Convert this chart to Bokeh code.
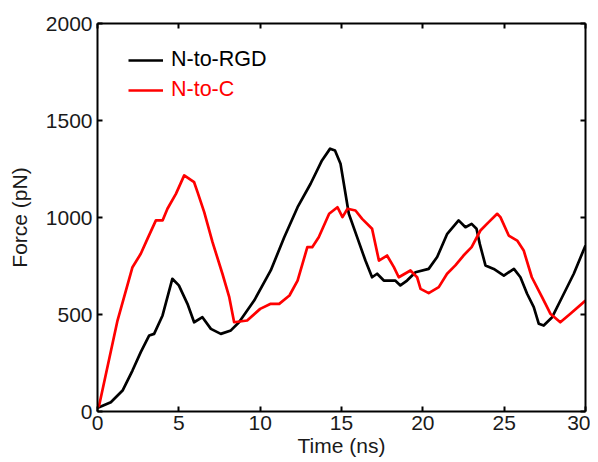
from bokeh.plotting import figure
from bokeh.models import LinearAxis, Legend, LegendItem, FixedTicker, Range1d, CustomLabelingPolicy
from bokeh.embed import file_html
from bokeh.resources import INLINE

black_t = [0, 0.1, 0.82, 1.54, 2.15, 2.66, 3.18, 3.48, 4.0, 4.6, 5.0, 5.53, 5.94, 6.45, 6.97, 7.58, 8.2, 8.7, 9.63, 10.65,
           11.48, 12.3, 13.1, 13.8, 14.3, 14.6, 14.94, 15.45, 15.96, 16.47, 16.88, 17.19, 17.6, 18.3, 18.62, 19.03, 19.55, 20.36, 20.88, 21.5,
           22.2, 22.62, 23.0, 23.3, 23.5, 23.85, 24.36, 24.98, 25.6, 26.0, 26.41, 26.82, 27.13, 27.43, 27.95, 28.56, 29.28, 30.0]
black_f = [20, 22, 48, 108, 211, 306, 392, 400, 495, 684, 650, 555, 460, 486, 426, 400, 418, 460, 572, 727,
           898, 1053, 1174, 1294, 1355, 1345, 1277, 1019, 899, 778, 692, 710, 675, 675, 650, 675, 718, 735, 796, 916,
           985, 950, 967, 942, 864, 753, 735, 701, 735, 692, 607, 538, 452, 443, 486, 589, 710, 856]

red_t = [0, 0.1, 1.23, 2.15, 2.66, 3.07, 3.59, 4.0, 4.3, 4.82, 5.33, 5.94, 6.15, 6.56, 7.07, 7.68, 8.1, 8.4, 9.2, 10.0,
         10.65, 11.17, 11.8, 12.3, 12.9, 13.2, 13.6, 14.24, 14.75, 15.06, 15.37, 15.86, 16.27, 16.88, 17.3, 17.8, 18.22, 18.52, 19.24, 19.65,
         19.86, 20.36, 20.98, 21.49, 22.0, 22.5, 23.0, 23.54, 24.05, 24.57, 24.77, 25.28, 25.8, 26.2, 26.7, 27.33, 27.84, 28.45, 29.07, 30.0]
red_f = [20, 31, 469, 744, 813, 890, 985, 985, 1045, 1122, 1217, 1182, 1131, 1028, 873, 710, 589, 460, 469, 529,
         555, 555, 598, 675, 847, 847, 898, 1019, 1053, 1002, 1045, 1036, 993, 942, 778, 804, 744, 692, 727, 692,
         632, 610, 641, 710, 753, 804, 847, 933, 976, 1019, 1002, 907, 881, 830, 692, 589, 504, 460, 504, 572]

x_ticks = [0, 5, 10, 15, 20, 25, 30]
y_ticks = [0, 500, 1000, 1500, 2000]
labels = ["N-to-RGD", "N-to-C"]
colors = ["#000000", "#ff0000"]

FONT = "Liberation Sans"
FS = "21px"
TXT = "#1a1a1a"

HIDE_CODE = """
try {
  for (let i = 0; i < indices.size; i++) {
    if (typeof indices.unset === "function") { indices.unset(i) }
    else if (typeof indices.set === "function") { indices.set(i, false) }
  }
} catch (e) {}
return indices
"""

p = figure(width=590, height=462, output_backend="svg", toolbar_location=None,
           x_range=Range1d(0, 30), y_range=Range1d(0, 2000),
           min_border_left=97, min_border_right=5, min_border_top=23, min_border_bottom=51,
           x_axis_label="Time (ns)", y_axis_label="Force (pN)")
p.outline_line_color = None
p.xgrid.visible = False
p.ygrid.visible = False
p.background_fill_color = "white"
p.border_fill_color = "white"

r_black = p.line(black_t, black_f, line_color=colors[0], line_width=2.7, line_join="round")
r_red = p.line(red_t, red_f, line_color=colors[1], line_width=2.7, line_join="round")

def style(ax, show_labels):
    ax.axis_line_width = 2
    ax.axis_line_color = "black"
    ax.major_tick_line_width = 2
    ax.major_tick_line_color = "black"
    ax.major_tick_in = 5
    ax.major_tick_out = 0
    ax.minor_tick_line_color = None
    ax.major_label_text_font = FONT
    ax.axis_label_text_font = FONT
    ax.axis_label_text_font_style = "normal"
    ax.axis_label_text_font_size = FS
    ax.axis_label_text_color = TXT
    ax.major_label_text_color = TXT
    if show_labels:
        ax.major_label_text_font_size = FS
    else:
        ax.major_label_text_font_size = "1px"
        ax.major_label_standoff = 0
        ax.major_label_policy = CustomLabelingPolicy(code=HIDE_CODE)

xa = p.xaxis[0]
ya = p.yaxis[0]
xa.ticker = FixedTicker(ticks=x_ticks)
ya.ticker = FixedTicker(ticks=y_ticks)
style(xa, True)
style(ya, True)
xa.major_label_standoff = 4
xa.axis_label_standoff = 1
ya.major_label_standoff = 5
ya.axis_label_standoff = 12

top = LinearAxis(ticker=FixedTicker(ticks=x_ticks))
right = LinearAxis(ticker=FixedTicker(ticks=y_ticks))
style(top, False)
style(right, False)
p.add_layout(top, "above")
p.add_layout(right, "right")

for r, lab, col, vy in [(r_black, labels[0], colors[0], 339), (r_red, labels[1], colors[1], 309)]:
    lg = Legend(items=[LegendItem(label=lab, renderers=[r])], location=(31, vy),
                border_line_color=None, background_fill_alpha=0, padding=0, margin=0,
                glyph_width=35, glyph_height=20, label_height=20, label_standoff=8,
                label_text_font=FONT, label_text_font_size="21.5px", label_text_color=col)
    p.add_layout(lg, "center")

open("out.html", "w").write(file_html(p, INLINE))
